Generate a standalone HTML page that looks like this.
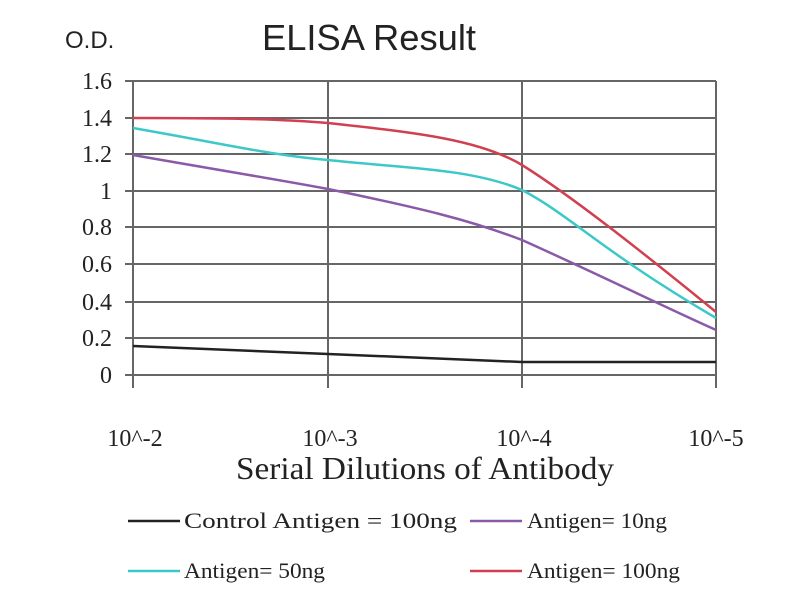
<!DOCTYPE html>
<html><head><style>body{margin:0;background:#fff}</style></head><body>
<svg width="800" height="600" xmlns="http://www.w3.org/2000/svg" style="display:block">
<rect width="800" height="600" fill="#fff"/>
<g font-family="Liberation Sans, sans-serif" fill="#222">
<text x="65" y="48" font-size="24">O.D.</text>
<text x="262" y="50" font-size="36" textLength="214" lengthAdjust="spacingAndGlyphs">ELISA Result</text>
</g>
<g stroke="#666" stroke-width="2">
<line x1="125" y1="81" x2="716" y2="81"/>
<line x1="125" y1="118" x2="716" y2="118"/>
<line x1="125" y1="154" x2="716" y2="154"/>
<line x1="125" y1="191" x2="716" y2="191"/>
<line x1="125" y1="227" x2="716" y2="227"/>
<line x1="125" y1="264" x2="716" y2="264"/>
<line x1="125" y1="302" x2="716" y2="302"/>
<line x1="125" y1="338" x2="716" y2="338"/>
<line x1="125" y1="375" x2="716" y2="375"/>
<line x1="133" y1="81" x2="133" y2="388"/>
<line x1="328" y1="81" x2="328" y2="388"/>
<line x1="522" y1="81" x2="522" y2="388"/>
<line x1="716" y1="81" x2="716" y2="388"/>
</g>
<g font-family="Liberation Serif, serif" font-size="24" fill="#222" text-anchor="end">
<text x="112" y="89">1.6</text><text x="112" y="126">1.4</text><text x="112" y="162">1.2</text>
<text x="112" y="199">1</text><text x="112" y="235">0.8</text><text x="112" y="272">0.6</text>
<text x="112" y="310">0.4</text><text x="112" y="346">0.2</text><text x="112" y="383">0</text>
</g>
<g font-family="Liberation Serif, serif" font-size="24" fill="#222" text-anchor="middle">
<text x="135" y="446">10^-2</text><text x="330" y="446">10^-3</text>
<text x="524" y="446">10^-4</text><text x="716" y="446">10^-5</text>
</g>
<text x="236" y="479" font-family="Liberation Serif, serif" font-size="32" fill="#222" textLength="378" lengthAdjust="spacingAndGlyphs">Serial Dilutions of Antibody</text>
<g fill="none" stroke-width="2.5">
<path d="M133,346 L328,354 L522,362 L716,362" stroke="#222"/>
<path d="M133,155 C230,172 280,180 328,189 C420,208 470,220 522,240 C600,275 660,305 716,330" stroke="#8a5aa8"/>
<path d="M133,128 C230,145 270,155 328,160 C400,168 470,168 522,190 C570,215 600,250 716,318" stroke="#3cc8c8"/>
<path d="M133,118 C230,118 280,119 328,123 C420,133 480,140 522,165 C570,195 640,250 716,312" stroke="#d04050"/>
</g>
<g stroke-width="2.5">
<line x1="128" y1="521" x2="180" y2="521" stroke="#222"/>
<line x1="470" y1="521" x2="522" y2="521" stroke="#8a5aa8"/>
<line x1="128" y1="571" x2="180" y2="571" stroke="#3cc8c8"/>
<line x1="470" y1="571" x2="522" y2="571" stroke="#d04050"/>
</g>
<g font-family="Liberation Serif, serif" font-size="22" fill="#222">
<text x="184" y="528" textLength="273" lengthAdjust="spacingAndGlyphs">Control Antigen = 100ng</text>
<text x="527" y="528" textLength="140" lengthAdjust="spacingAndGlyphs">Antigen= 10ng</text>
<text x="184" y="578" textLength="141" lengthAdjust="spacingAndGlyphs">Antigen= 50ng</text>
<text x="527" y="578" textLength="153" lengthAdjust="spacingAndGlyphs">Antigen= 100ng</text>
</g>
</svg>
</body></html>
